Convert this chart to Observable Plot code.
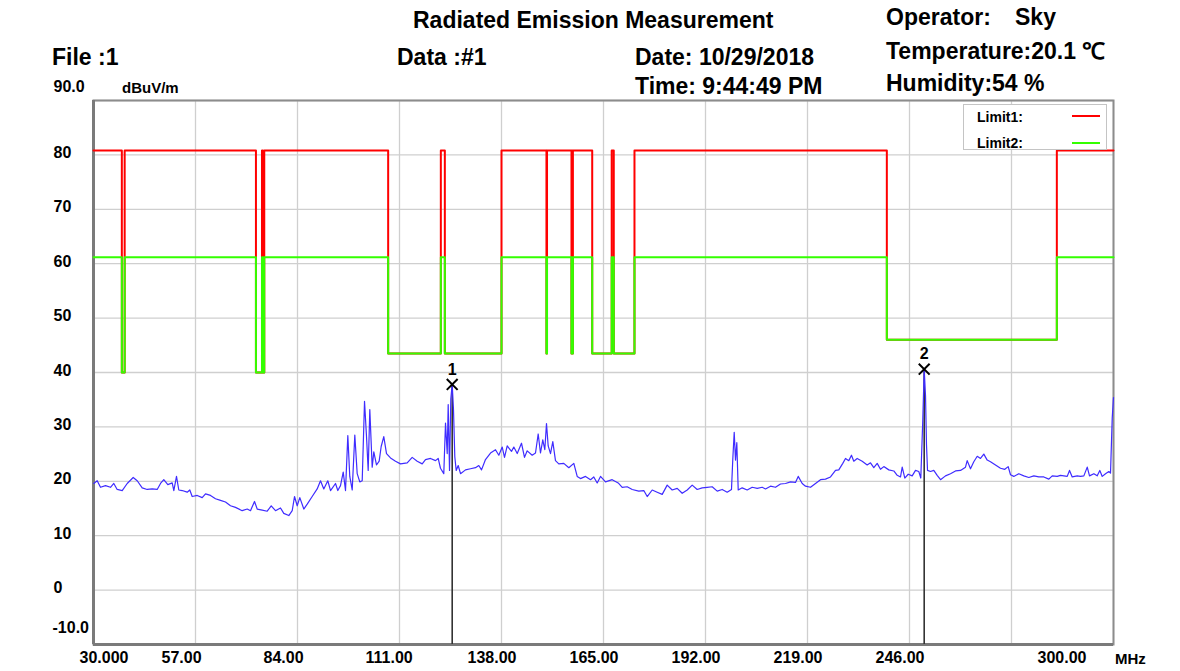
<!DOCTYPE html>
<html><head><meta charset="utf-8">
<script src="https://cdn.jsdelivr.net/npm/d3@7"></script>
<script src="https://cdn.jsdelivr.net/npm/@observablehq/plot@0.6"></script>
<style>
body{margin:0;background:#fff;}
#wrap{position:relative;width:1180px;height:671px;overflow:hidden;font-family:"Liberation Sans",Arial,sans-serif;background:#fff;}
#chart{position:absolute;left:0;top:0;}
#chart svg text{font-weight:bold;}
.h{position:absolute;font-weight:bold;font-size:23px;line-height:23px;white-space:pre;color:#000;z-index:2;}
.s{position:absolute;font-weight:bold;font-size:15px;line-height:15px;white-space:pre;color:#000;z-index:2;}
#legend{position:absolute;left:963px;top:104px;width:142px;height:44px;border:1px solid #c4c4c4;background:#fff;z-index:2;}
#legend .t{position:absolute;left:13px;font-weight:bold;font-size:14px;line-height:14px;}
#legend .l{position:absolute;left:108px;width:28px;height:2px;}
</style>
</head><body>
<div id="wrap">
  <div id="chart"></div>
  <div class="h" style="left:413px;top:9px;">Radiated Emission Measurement</div>
  <div class="h" style="left:886px;top:6px;">Operator:</div>
  <div class="h" style="left:1015px;top:6px;">Sky</div>
  <div class="h" style="left:52px;top:46px;">File :1</div>
  <div class="h" style="left:397px;top:46px;">Data :#1</div>
  <div class="h" style="left:635px;top:46px;">Date: 10/29/2018</div>
  <div class="h" style="left:886px;top:40px;">Temperature:20.1 ℃</div>
  <div class="h" style="left:635px;top:75px;">Time: 9:44:49 PM</div>
  <div class="h" style="left:886px;top:72px;">Humidity:54 %</div>
  <div class="s" style="left:122px;top:80px;">dBuV/m</div>
  <div class="s" style="left:1115px;top:651px;">MHz</div>
  <div id="legend">
    <div class="t" style="top:5px;">Limit1:</div>
    <div class="l" style="top:10px;background:#ff0000;"></div>
    <div class="t" style="top:31px;">Limit2:</div>
    <div class="l" style="top:37px;background:#33ff00;"></div>
  </div>
</div>
<script>
// ---- Data ----
const traceFreq = [30.08,30.98,31.85,33.18,34.50,35.37,36.27,37.60,38.92,40.51,41.57,42.89,44.21,45.54,46.86,47.74,48.61,49.67,50.83,51.26,51.97,52.58,53.48,54.80,55.49,56.12,57.45,58.77,59.65,60.97,62.29,63.62,64.94,66.26,67.59,69.36,70.69,71.56,72.62,73.33,74.66,75.98,77.04,78.18,79.50,80.37,81.70,82.60,83.21,83.92,84.61,85.67,86.57,87.89,89.21,90.09,90.96,92.02,92.74,94.06,94.67,95.38,96.10,96.71,97.32,97.84,98.48,99.17,99.80,100.49,101.13,101.74,102.27,102.71,103.14,103.77,104.20,104.91,105.62,106.15,106.84,107.56,108.62,109.94,111.26,113.04,114.36,115.69,117.01,117.88,119.21,120.53,121.24,121.85,122.72,123.18,123.63,123.89,124.24,124.58,124.95,125.29,125.64,126.01,126.54,127.15,128.47,129.79,131.12,131.99,132.71,133.76,135.09,136.41,137.29,138.19,138.80,139.51,140.65,141.26,142.16,143.29,144.09,144.80,146.12,147.00,147.71,148.32,148.93,149.46,149.91,150.36,150.97,151.58,152.29,153.17,154.49,155.82,157.14,158.04,158.91,160.24,161.56,162.43,163.33,164.21,165.53,167.30,168.89,169.95,171.27,172.60,174.35,175.67,176.57,177.89,179.21,180.54,181.86,183.18,184.51,185.83,187.16,188.48,189.80,191.12,192.45,193.77,195.10,196.42,197.74,198.88,199.22,199.60,199.94,200.29,200.66,201.71,203.04,204.36,205.69,207.01,207.88,209.21,210.53,211.85,213.18,214.50,215.82,216.54,217.60,218.47,219.80,221.12,222.44,223.76,225.09,226.41,227.28,228.34,229.06,229.93,230.64,231.25,232.15,233.48,234.80,235.67,236.55,237.45,238.32,239.20,240.52,241.85,242.75,243.62,244.07,244.76,245.66,246.71,247.59,248.46,248.99,249.52,249.89,250.24,250.50,250.77,251.56,252.43,253.33,254.21,255.53,256.85,258.18,259.50,260.82,261.27,262.15,263.02,263.93,264.79,265.67,266.57,267.44,268.76,270.09,271.23,272.12,272.74,273.61,274.94,276.26,277.58,278.91,280.23,281.56,282.88,283.78,285.10,285.97,286.85,287.75,288.36,289.07,290.40,291.27,292.15,293.05,293.65,294.80,295.69,296.38,297.02,297.89,298.77,299.21,299.66,300.00];
const traceLevel = [19.6,20.1,18.9,19.2,18.9,19.6,18.5,18.3,19.6,20.7,20.1,18.8,18.5,18.6,18.5,19.6,20.3,19.4,19.7,18.3,20.9,18.4,18.3,18.0,18.4,17.2,17.4,17.0,17.7,17.4,16.8,16.5,16.2,15.5,15.2,14.6,14.9,14.6,16.3,14.9,14.7,14.5,15.5,14.6,15.1,14.1,13.7,14.6,17.2,15.5,17.0,14.9,15.8,17.2,18.6,20.1,18.6,20.1,18.3,19.6,18.3,19.2,21.7,18.3,28.4,20.9,18.4,28.5,21.4,19.9,20.1,34.7,28.2,22.0,33.2,22.6,25.4,23.0,23.7,26.4,28.2,25.1,24.3,23.7,23.2,23.4,24.4,23.7,23.2,24.0,24.2,23.8,24.2,22.4,21.4,30.7,25.1,34.1,22.0,35.1,37.8,33.2,24.5,22.0,22.9,21.4,22.1,22.3,22.5,22.9,22.1,24.0,25.2,25.8,24.8,26.3,24.4,26.5,25.5,26.3,25.1,27.0,24.4,25.6,24.8,25.2,28.7,25.2,27.6,25.8,30.6,26.5,25.1,27.3,23.8,23.2,23.3,22.5,23.3,20.9,20.5,20.9,20.3,20.8,19.7,20.9,19.9,20.3,19.7,18.9,19.0,18.5,18.2,18.3,17.2,18.4,18.0,17.6,19.3,18.4,18.7,17.8,18.4,19.3,18.5,18.8,18.9,19.0,18.2,18.5,18.0,18.5,24.0,29.0,23.9,27.1,18.4,18.8,18.4,18.9,18.7,18.9,18.6,19.1,18.9,19.5,19.6,19.9,19.8,20.9,19.6,19.1,18.9,19.6,20.3,20.4,20.8,22.0,22.1,23.3,24.2,23.8,24.8,23.7,24.2,23.7,23.0,23.4,22.5,23.3,22.2,22.7,22.1,21.9,21.1,20.8,22.6,20.6,21.3,21.0,22.0,21.8,20.6,31.3,40.6,35.7,26.7,22.0,21.8,22.0,21.1,20.3,21.0,21.4,21.9,22.0,22.6,23.8,22.3,23.6,24.6,24.2,25.0,23.9,23.6,23.0,22.4,22.2,22.7,21.2,20.9,21.4,21.0,20.7,21.0,20.8,20.8,20.4,21.0,20.9,21.1,21.0,20.9,22.0,20.8,21.0,20.9,21.0,22.6,21.0,21.4,21.0,22.0,20.9,21.4,21.8,21.5,31.6,35.4];

// restricted bands (MHz) where limits step down
const bandLo = [37.5, 73, 74.8, 108, 123, 149.9, 156.52475, 156.7, 162.0125, 167.72, 240];
const bandHi = [38.25, 74.6, 75.2, 121.94, 138, 150.05, 156.52525, 156.9, 167.17, 173.2, 285];
const limit1High = 80.8;
const limit2High = 61.2;
const bandLowBreaks = [88, 216];       // MHz
const bandLowLevels = [40, 43.5, 46];  // dBuV/m, level of both limits inside a band

const markerFreq = [124.95, 249.89];
const markerLevel = [37.8, 40.6];
const markerLabel = ["1", "2"];

const gridXTicks = [30, 57, 84, 111, 138, 165, 192, 219, 246, 273, 300];
const gridYTicks = [-10, 0, 10, 20, 30, 40, 50, 60, 70, 80, 90];
const xLabelTicks = [57, 84, 111, 138, 165, 192, 219, 246];
const yLabelTicks = [0, 10, 20, 30, 40, 50, 60, 70, 80];

// ---- Build tables ----
const trace = traceFreq.map((f, i) => ({f, v: traceLevel[i]}));
function lowLevel(f) {
  let i = 0; while (i < bandLowBreaks.length && f >= bandLowBreaks[i]) i++;
  return bandLowLevels[i];
}
function stepLine(high) {
  const pts = [{f: 30, v: high}];
  bandLo.forEach((lo, i) => {
    const hi = bandHi[i], low = lowLevel(lo);
    pts.push({f: lo, v: high}, {f: lo, v: low}, {f: hi, v: low}, {f: hi, v: high});
  });
  pts.push({f: 300, v: high});
  return pts;
}
const limit1 = stepLine(limit1High);
const limit2 = stepLine(limit2High);
const markers = markerFreq.map((f, i) => ({f, v: markerLevel[i], label: markerLabel[i]}));

const axisText = {tickSize: 0, fontSize: 16, fontWeight: "bold", fill: "#000", label: null};

const chart = Plot.plot({
  width: 1180, height: 671,
  marginLeft: 93, marginRight: 67, marginTop: 100, marginBottom: 27,
  x: {domain: [30, 300]},
  y: {domain: [-10, 90]},
  style: {fontFamily: "Liberation Sans, Arial, sans-serif", background: "transparent", overflow: "visible"},
  marks: [
    Plot.ruleX(gridXTicks, {stroke: "#cfcfcf", strokeWidth: 1.3}),
    Plot.ruleY(gridYTicks, {stroke: "#cfcfcf", strokeWidth: 1.3}),
    Plot.frame({stroke: "#8c8c8c", strokeWidth: 2}),
    Plot.ruleX([30], {stroke: "#7a7a7a", strokeWidth: 3}),
    Plot.ruleY([-10], {stroke: "#7a7a7a", strokeWidth: 3}),
    Plot.line(limit1, {x: "f", y: "v", stroke: "#ff0000", strokeWidth: 2}),
    Plot.line(limit2, {x: "f", y: "v", stroke: "#33ff00", strokeWidth: 2}),
    Plot.ruleX(markers, {x: "f", y1: -10, y2: "v", stroke: "#333", strokeWidth: 1.6}),
    Plot.line(trace, {x: "f", y: "v", stroke: "#3f2cff", strokeWidth: 1.2}),
    Plot.dot(markers, {x: "f", y: "v", symbol: "times", r: 5, stroke: "#000", strokeWidth: 2}),
    Plot.text(markers, {x: "f", y: "v", text: "label", dy: -15, fontSize: 16, fill: "#000"}),
    Plot.axisX(xLabelTicks, {...axisText, tickPadding: 7, textAnchor: "start", dx: -34, tickFormat: d => d.toFixed(2)}),
    Plot.axisX([30], {...axisText, tickPadding: 7, textAnchor: "start", dx: -14, tickFormat: d => d.toFixed(3)}),
    Plot.axisX([300], {...axisText, tickPadding: 7, textAnchor: "start", dx: -76, tickFormat: d => d.toFixed(2)}),
    Plot.axisY(yLabelTicks, {...axisText, tickPadding: 0, textAnchor: "start", dx: -40, dy: -2, tickFormat: d => String(d)}),
    Plot.axisY([90], {...axisText, tickPadding: 0, textAnchor: "start", dx: -40, dy: -14, tickFormat: d => d.toFixed(1)}),
    Plot.axisY([-10], {...axisText, tickPadding: 0, textAnchor: "start", dx: -41, dy: -17, tickFormat: d => d.toFixed(1)})
  ]
});
document.getElementById("chart").appendChild(chart);
</script>
</body></html>
